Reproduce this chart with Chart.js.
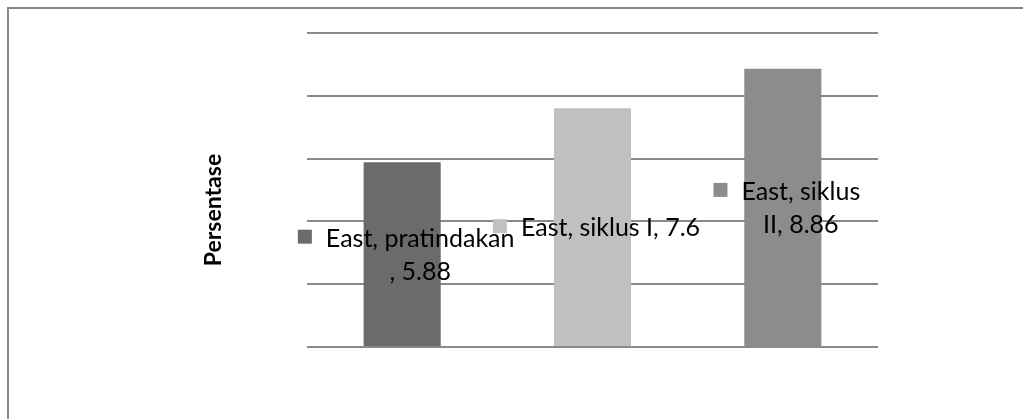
<!DOCTYPE html>
<html>
<head>
<meta charset="utf-8">
<script src="https://cdn.jsdelivr.net/npm/chart.js@4/dist/chart.umd.min.js"></script>
<style>
  html, body { margin: 0; padding: 0; background: #fff; overflow: hidden; }
  #frame {
    position: absolute; left: 7px; top: 7px;
    width: 1100px; height: 500px;
    border: 2px solid #888; box-sizing: border-box;
  }
  #wrap { position: absolute; left: 0; top: 0; width: 1023px; height: 419px; }
</style>
</head>
<body>
<div id="frame"></div>
<div id="wrap"><canvas id="chart"></canvas></div>
<script>
const seriesName = 'East'
const categories = ['pratindakan', 'siklus I', 'siklus II']
const values = [5.88, 7.6, 8.86]
const barColors = ['#6b6b6b', '#c0c0c0', '#8c8c8c']
// where the data label text wraps onto a second line (char index, null = no wrap)
const labelBreaks = [17, null, 12]
const yTicks = [0, 2, 4, 6, 8, 10]
const yTitle = 'Persentase'

const fontFamily = 'Lato, Carlito, "Open Sans", sans-serif'

const dataLabels = {
  id: 'dataLabels',
  afterDatasetsDraw(chart) {
    const ctx = chart.ctx
    const meta = chart.getDatasetMeta(0)
    ctx.save()
    ctx.font = `25px ${fontFamily}`
    ctx.textBaseline = 'middle'
    meta.data.forEach((bar, i) => {
      const text = `${seriesName}, ${categories[i]}, ${values[i]}`
      const br = labelBreaks[i]
      const lines = br ? [text.slice(0, br), text.slice(br).trim()] : [text]
      const lineH = 33
      const sq = 14, gap = 14
      const w0 = ctx.measureText(lines[0]).width
      const blockW = sq + gap + w0
      const cx = bar.x + 4
      const midY = (bar.y + bar.base) / 2
      const top = midY - (lines.length - 1) * lineH / 2
      const left = cx - blockW / 2
      const textLeft = left + sq + gap
      const textCenter = textLeft + w0 / 2
      ctx.fillStyle = barColors[i]
      ctx.fillRect(left, top - sq / 2 - 1, sq, sq)
      ctx.fillStyle = '#000'
      ctx.textAlign = 'left'
      ctx.fillText(lines[0], textLeft, top + 1)
      ctx.textAlign = 'center'
      for (let k = 1; k < lines.length; k++) {
        ctx.fillText(lines[k], textCenter, top + k * lineH + 1)
      }
    })

    // axis title, centred a bit lower than the plot like the original
    ctx.translate(214, 210)
    ctx.rotate(-Math.PI / 2)
    ctx.font = `bold 23px ${fontFamily}`
    ctx.textAlign = 'center'
    ctx.fillStyle = '#000'
    ctx.fillText(yTitle, 0, 0)
    ctx.restore()
  }
}

new Chart(document.getElementById('chart').getContext('2d'), {
  type: 'bar',
  data: {
    labels: categories,
    datasets: [{
      label: seriesName,
      data: values,
      backgroundColor: barColors,
      borderWidth: 0,
      categoryPercentage: 1,
      barPercentage: 0.405
    }]
  },
  options: {
    responsive: true,
    maintainAspectRatio: false,
    animation: false,
    layout: { padding: { left: 204, right: 145, top: 33, bottom: 72 } },
    plugins: {
      legend: { display: false },
      tooltip: { enabled: false }
    },
    scales: {
      x: { display: false },
      y: {
        min: yTicks[0],
        max: yTicks[yTicks.length - 1],
        afterBuildTicks: (scale) => { scale.ticks = yTicks.map(v => ({ value: v })) },
        afterFit: (scale) => { scale.width = 103 },
        ticks: { display: false },
        border: { display: false },
        grid: { color: '#8a8a8a', lineWidth: 2, drawTicks: false },
        title: { display: false }
      }
    }
  },
  plugins: [dataLabels]
})
</script>
</body>
</html>
